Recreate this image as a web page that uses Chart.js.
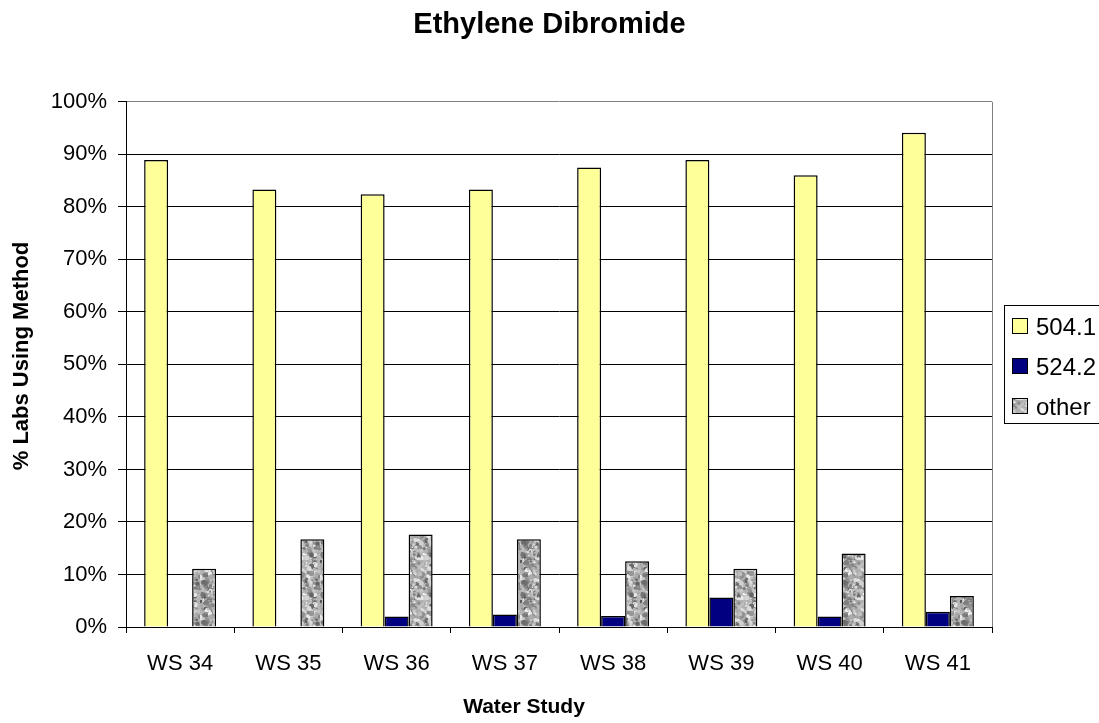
<!DOCTYPE html>
<html>
<head>
<meta charset="utf-8">
<script src="https://cdn.jsdelivr.net/npm/chart.js@4"></script>
<style>
  body { margin: 0; background: #fff; overflow: hidden; }
</style>
</head>
<body>
<canvas id="myChart" width="1099" height="723"></canvas>
<script>
const categories = ['WS 34', 'WS 35', 'WS 36', 'WS 37', 'WS 38', 'WS 39', 'WS 40', 'WS 41'];
const seriesNames = ['504.1', '524.2', 'other'];
const method5041 = [88.9, 83.3, 82.4, 83.3, 87.5, 88.9, 86.0, 94.1];
const method5242 = [0, 0, 2.0, 2.4, 2.1, 5.6, 2.0, 2.9];
const otherMethod = [11.1, 16.7, 17.6, 16.7, 12.5, 11.1, 14.0, 5.9];
const xTitle = 'Water Study';
const yTitle = '% Labs Using Method';

const FONT = '"Liberation Sans", Arial, sans-serif';

// grey granite-like fill for the "other" bars
function granite() {
  const c = document.createElement('canvas');
  c.width = c.height = 40;
  const g = c.getContext('2d');
  g.fillStyle = '#b4b4b4';
  g.fillRect(0, 0, 40, 40);
  let s = 11;
  const rnd = () => (s = (s * 16807) % 2147483647) / 2147483647;
  for (let i = 0; i < 300; i++) {
    const v = Math.floor(90 + rnd() * 150);
    g.fillStyle = 'rgb(' + v + ',' + v + ',' + v + ')';
    g.beginPath();
    g.arc(rnd() * 40, rnd() * 40, 0.8 + rnd() * 1.9, 0, Math.PI * 2);
    g.fill();
  }
  return g.createPattern(c, 'repeat');
}

// Excel style legend box, cut off at the right edge
const boxLegend = {
  id: 'boxLegend',
  afterDraw(chart) {
    const ctx = chart.ctx;
    ctx.save();
    ctx.strokeStyle = '#000';
    ctx.lineWidth = 1;
    ctx.strokeRect(1004.5, 305.5, 200, 118);
    ctx.font = '24px ' + FONT;
    ctx.textBaseline = 'middle';
    chart.data.datasets.forEach((ds, i) => {
      const cy = 326 + i * 40;
      ctx.fillStyle = ds.backgroundColor;
      ctx.fillRect(1012, cy - 8, 16, 16);
      ctx.strokeStyle = '#000';
      ctx.strokeRect(1012.5, cy - 7.5, 15, 15);
      ctx.fillStyle = '#000';
      ctx.fillText(ds.label, 1036, cy + 2);
    });
    ctx.restore();
  }
};

// axis titles placed like Excel did (not centred on the plot area)
const axisTitles = {
  id: 'axisTitles',
  afterDraw(chart) {
    const ctx = chart.ctx;
    ctx.save();
    ctx.fillStyle = '#000';
    ctx.textAlign = 'center';
    ctx.textBaseline = 'middle';
    ctx.font = 'bold 21px ' + FONT;
    ctx.fillText(xTitle, 524, 707);
    ctx.translate(22, 356);
    ctx.rotate(-Math.PI / 2);
    ctx.font = 'bold 22px ' + FONT;
    ctx.fillText(yTitle, 0, 0);
    ctx.restore();
  }
};

// grey right border of the plot area
const plotBorder = {
  id: 'plotBorder',
  beforeDatasetsDraw(chart) {
    const a = chart.chartArea;
    const ctx = chart.ctx;
    ctx.save();
    ctx.strokeStyle = '#808080';
    ctx.lineWidth = 1;
    ctx.beginPath();
    ctx.moveTo(Math.round(a.right) + 0.5, a.top);
    ctx.lineTo(Math.round(a.right) + 0.5, a.bottom);
    ctx.stroke();
    ctx.restore();
  }
};

const common = { borderColor: '#000', borderWidth: 1.5, categoryPercentage: 0.665, barPercentage: 1.0 };

const data = {
  labels: categories,
  datasets: [
    Object.assign({ label: seriesNames[0], data: method5041, backgroundColor: '#FFFF99' }, common),
    Object.assign({ label: seriesNames[1], data: method5242, backgroundColor: '#000080' }, common),
    Object.assign({ label: seriesNames[2], data: otherMethod, backgroundColor: granite() }, common)
  ]
};

const ctx = document.getElementById('myChart');
new Chart(ctx, {
  type: 'bar',
  data: data,
  plugins: [plotBorder, boxLegend, axisTitles],
  options: {
    responsive: false,
    devicePixelRatio: 1,
    animation: false,
    layout: { padding: 0 },
    plugins: {
      legend: { display: false },
      tooltip: { enabled: false },
      title: {
        display: true,
        text: 'Ethylene Dibromide',
        color: '#000',
        font: { family: FONT, size: 29, weight: 'bold' },
        padding: { top: 8, bottom: 59 }
      }
    },
    scales: {
      x: {
        grid: { offset: true, drawOnChartArea: false, drawTicks: true, tickLength: 6, color: '#000' },
        border: { color: '#000', width: 1 },
        ticks: { color: '#000', font: { family: FONT, size: 22 }, padding: 18, maxRotation: 0 },
        afterFit: s => { s.height = 96; }
      },
      y: {
        min: 0,
        max: 100,
        grid: {
          color: c => (c.tick && c.tick.value === 100 ? '#808080' : '#000'),
          tickColor: '#000',
          tickLength: 8,
          lineWidth: 1
        },
        border: { color: '#000', width: 1 },
        ticks: {
          stepSize: 10,
          color: '#000',
          padding: 11,
          font: { family: FONT, size: 22 },
          callback: v => v + '%'
        },
        afterFit: s => { s.width = 126; }
      },
      spacer: {
        type: 'linear',
        position: 'right',
        grid: { display: false },
        border: { display: false },
        ticks: { display: false },
        afterFit: s => { s.width = 107; }
      }
    }
  }
});
</script>
</body>
</html>
